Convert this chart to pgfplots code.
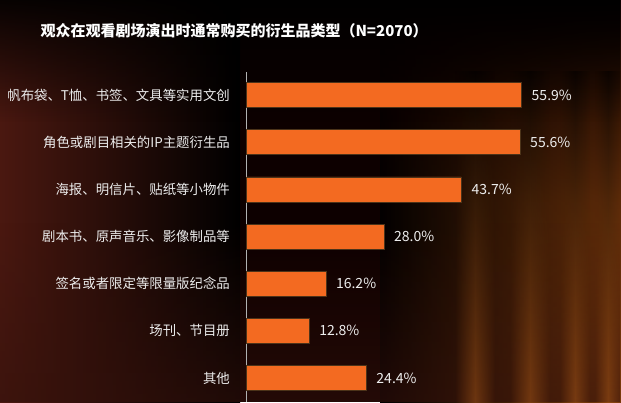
\documentclass[border=0pt]{standalone}
\usepackage{fontspec}
\setmainfont{Noto Sans CJK SC}
\usepackage{pgfplots}
\pgfplotsset{compat=1.18}
\usetikzlibrary{fadings}
\definecolor{barorange}{HTML}{F36A21}
\definecolor{bgleft}{HTML}{4A1810}
\definecolor{bgright}{HTML}{7A3A0C}
\definecolor{streak}{HTML}{A85818}
\definecolor{txt}{HTML}{EDEDED}
\tikzfading[name=hstreak, left color=transparent!100, right color=transparent!100, middle color=transparent!0]
\tikzfading[name=vfade, top color=transparent!100, bottom color=transparent!0, middle color=transparent!25]
\begin{document}
\begin{tikzpicture}[x=1bp,y=1bp]
\useasboundingbox (0,0) rectangle (621,402);
% background
\fill[black!95!red] (0,0) rectangle (621,402);
\shade[left color=bgleft, right color=black] (0,0) rectangle (240,402);
\shade[left color=black, right color=bgright, path fading=vfade] (380,0) rectangle (621,402);
\fill[black, path fading=south, fill opacity=0.9] (0,280) rectangle (621,402);
\fill[bgleft!70!black, path fading=north, fill opacity=0.6] (0,0) rectangle (621,180);
% curtain streaks
\foreach \xa/\xb in {455/495, 510/550, 560/590, 595/621}{
  \shade[top color=black, bottom color=streak, path fading=hstreak, fill opacity=0.5] (\xa,0) rectangle (\xb,330);
}
\node[anchor=west, text=white, font=\fontsize{15bp}{18bp}\selectfont\bfseries] at (37,371) {观众在观看剧场演出时通常购买的衍生品类型（N=2070）};
\begin{axis}[
  at={(246bp,0bp)}, anchor=south west,
  scale only axis, width=345bp, height=330bp,
  xmin=0, xmax=70, ymin=-0.509, ymax=6.488,
  xbar, bar width=25bp, bar shift=0pt,
  axis x line=none,
  axis y line*=left,
  y axis line style={draw=gray!60, line width=1bp},
  ytick={0,...,6}, major tick length=0pt,
  yticklabels={其他,场刊、节目册,签名或者限定等限量版纪念品,剧本书、原声音乐、影像制品等,海报、明信片、贴纸等小物件,角色或剧目相关的IP主题衍生品,帆布袋、T恤、书签、文具等实用文创},
  yticklabel style={anchor=east, inner sep=0pt, xshift=-16bp, text=txt, font=\fontsize{13.4bp}{15bp}\selectfont},
  /pgf/number format/assume math mode=true,
  nodes near coords={\pgfmathprintnumber[fixed,fixed zerofill,precision=1]{\pgfplotspointmeta}\%},
  nodes near coords style={anchor=west, inner sep=0pt, xshift=10bp, text=txt, font=\fontsize{14bp}{15bp}\selectfont},
  clip=false,
]
\addplot[fill=barorange, draw=black!60!brown, line width=0.4bp] coordinates {
(55.9,6) (55.6,5) (43.7,4) (28.0,3) (16.2,2) (12.8,1) (24.4,0)
};
\end{axis}
\end{tikzpicture}
\end{document}
